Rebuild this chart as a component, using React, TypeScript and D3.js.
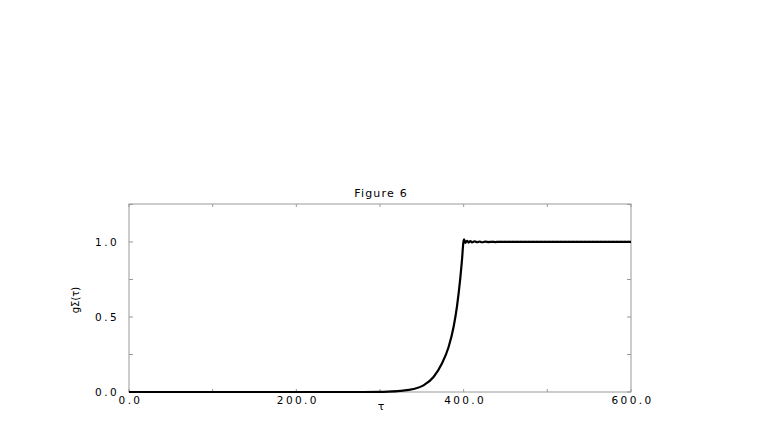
import * as d3 from "d3";

const W = 761;
const H = 443;
const M = { left: 129, right: 130, top: 204, bottom: 51 };

// values
const tau = [0, 100, 200, 280, 300, 310, 324, 340, 352, 364, 374, 382, 388, 392, 396, 398, 399.7,
  400.5, 402, 404, 406, 408, 410, 413, 416, 419, 422, 426, 430, 434, 438, 443, 448, 455, 500, 600];
const g = [0, 0, 0, 0, 0.001, 0.003, 0.008, 0.02, 0.044, 0.1, 0.19, 0.3, 0.435, 0.57, 0.76, 0.88, 1.0,
  1.018, 0.994, 1.008, 0.996, 1.005, 0.997, 1.004, 0.998, 1.003, 0.998, 1.002, 0.999, 1.001, 0.999, 1.001, 1.0, 1.0, 1.0, 1.0];

const xTicks = [0, 100, 200, 300, 400, 500, 600];
const xLabels = [0, 200, 400, 600];
const yTicks = [0, 0.25, 0.5, 0.75, 1.0, 1.25];
const yLabels = [0, 0.5, 1.0];

const AXIS = "#999";
const FONT = "DejaVu Sans, sans-serif";

export default function App() {
  const x = d3.scaleLinear().domain([0, 600]).range([M.left, W - M.right]);
  const y = d3.scaleLinear().domain([0, 1.253]).range([H - M.bottom, M.top]);
  const pts = tau.map((t, i) => [t, g[i]] as [number, number]);
  const line = d3.line<[number, number]>()
    .x((d) => x(d[0]))
    .y((d) => y(d[1]))
    .curve(d3.curveMonotoneX)(pts);
  const x0 = x(0), x1 = x(600), y0 = y(0), y1 = y(1.253);

  return (
    <svg width={W} height={H} style={{ position: "absolute", left: 0, top: 0, background: "#fff" }}>
      <rect x={x0} y={y1} width={x1 - x0} height={y0 - y1} fill="none" stroke={AXIS} strokeWidth={1} />
      {xTicks.map((t) => (
        <g key={"x" + t}>
          <line x1={x(t)} x2={x(t)} y1={y0} y2={y0 - 3} stroke={AXIS} />
          <line x1={x(t)} x2={x(t)} y1={y1} y2={y1 + 3} stroke={AXIS} />
        </g>
      ))}
      {yTicks.map((t) => (
        <g key={"y" + t}>
          <line x1={x0} x2={x0 + 4} y1={y(t)} y2={y(t)} stroke={AXIS} />
          <line x1={x1} x2={x1 - 4} y1={y(t)} y2={y(t)} stroke={AXIS} />
        </g>
      ))}
      {xLabels.map((t) => (
        <text key={"xl" + t} x={x(t) + 1.5} y={y0 + 12} textAnchor="middle" fontSize={10.5}
          fontFamily={FONT} letterSpacing={2.4} fill="#000">
          {t.toFixed(1)}
        </text>
      ))}
      {yLabels.map((t) => (
        <text key={"yl" + t} x={x0 - 10} y={y(t) + 4} textAnchor="end" fontSize={10.5}
          fontFamily={FONT} letterSpacing={2.4} fill="#000">
          {t.toFixed(1)}
        </text>
      ))}
      <line x1={x(400)} x2={x(600)} y1={y(1.0) - 1} y2={y(1.0) - 1} stroke="#ccc" strokeDasharray="2,2" />
      <path d={line ?? ""} fill="none" stroke="#000" strokeWidth={2.2} />
      <text x={381} y={197} textAnchor="middle" fontSize={11} fontFamily={FONT} letterSpacing={1.2} fill="#000">
        Figure 6
      </text>
      <text x={381} y={410} textAnchor="middle" fontSize={11} fontFamily={FONT} fill="#000">τ</text>
      <text transform={`translate(79,300) rotate(-90)`} textAnchor="middle" fontSize={10}
        fontFamily={FONT} fill="#000">
        gΣ(τ)
      </text>
    </svg>
  );
}
